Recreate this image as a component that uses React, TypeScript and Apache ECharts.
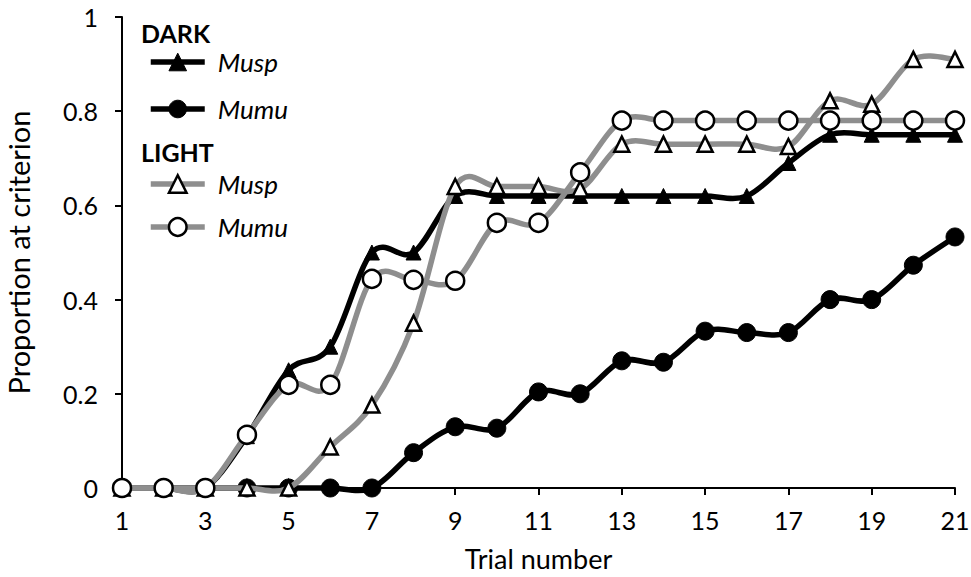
import React, { useEffect, useRef } from "react";
import * as echarts from "echarts";

const trials = ["1","2","3","4","5","6","7","8","9","10","11","12","13","14","15","16","17","18","19","20","21"];
const darkMusp = [0, 0, 0, 0.11, 0.25, 0.30, 0.50, 0.50, 0.62, 0.62, 0.62, 0.62, 0.62, 0.62, 0.62, 0.62, 0.69, 0.75, 0.75, 0.75, 0.75];
const darkMumu = [0, 0, 0, 0, 0, 0, 0, 0.075, 0.13, 0.127, 0.204, 0.20, 0.27, 0.267, 0.333, 0.33, 0.33, 0.40, 0.40, 0.473, 0.533];
const lightMusp = [0, 0, 0, 0, 0, 0.087, 0.176, 0.35, 0.64, 0.64, 0.64, 0.635, 0.73, 0.73, 0.73, 0.73, 0.725, 0.822, 0.815, 0.91, 0.91];
const lightMumu = [0, 0, 0, 0.113, 0.219, 0.219, 0.444, 0.442, 0.44, 0.563, 0.563, 0.67, 0.78, 0.78, 0.78, 0.78, 0.78, 0.78, 0.78, 0.78, 0.78];
const yTicks = ["0", "0.2", "0.4", "0.6", "0.8", "1"];

const FONT = "Lato";
const GREY = "#8e8e8e";
const LW = 5.5;

function curveSeries(vals: number[], color: string, z: number) {
  const n = vals.length;
  return {
    type: "custom",
    name: "_curve" + z,
    z,
    silent: true,
    data: vals.map((v, i) => [i, v]),
    encode: { x: 0, y: 1 },
    renderItem: (params: any, api: any) => {
      const i = params.dataIndex;
      if (i >= n - 1) return null;
      const p = (k: number) => {
        const c = Math.max(0, Math.min(n - 1, k));
        return api.coord([c, vals[c]]);
      };
      const p0 = p(i - 1), p1 = p(i), p2 = p(i + 1), p3 = p(i + 2);
      return {
        type: "bezierCurve",
        shape: {
          x1: p1[0], y1: p1[1], x2: p2[0], y2: p2[1],
          cpx1: p1[0] + (p2[0] - p0[0]) / 6, cpy1: p1[1] + (p2[1] - p0[1]) / 6,
          cpx2: p2[0] - (p3[0] - p1[0]) / 6, cpy2: p2[1] - (p3[1] - p1[1]) / 6,
        },
        style: { stroke: color, lineWidth: LW, fill: "none", lineCap: "round" },
      };
    },
  };
}

function markerSeries(name: string, vals: number[], dark: boolean, symbol: string, size: number, z: number) {
  return {
    name,
    type: "line",
    z,
    data: vals,
    symbol,
    symbolSize: size,
    showAllSymbol: true,
    lineStyle: { color: dark ? "#000" : GREY, width: LW, opacity: 0 },
    itemStyle: dark
      ? { color: "#000", borderColor: "#000", borderWidth: 1 }
      : { color: "#fff", borderColor: "#000", borderWidth: 2.5 },
    emphasis: { disabled: true },
  };
}

export default function App() {
  const ref = useRef<HTMLDivElement>(null);
  useEffect(() => {
    if (!ref.current) return;
    const chart = echarts.init(ref.current, null, { renderer: "svg" });
    const legendCommon = {
      orient: "vertical",
      left: 148,
      padding: 0,
      itemWidth: 54,
      itemHeight: 22,
      formatter: (n: string) => n.split(" ")[1],
      textStyle: { fontFamily: FONT, fontSize: 26, fontStyle: "italic", color: "#000", lineHeight: 22, padding: [0, 0, 0, 8] },
      selectedMode: false,
    };
    const li = (name: string, dark: boolean) => ({
      name,
      lineStyle: { color: dark ? "#000" : GREY, width: LW, opacity: 1 },
      itemStyle: dark
        ? { color: "#000", borderColor: "#000", borderWidth: 1 }
        : { color: "#fff", borderColor: "#000", borderWidth: 2.5 },
    });
    chart.setOption({
      animation: false,
      textStyle: { fontFamily: FONT },
      grid: { left: 122, right: 16, top: 17, bottom: 89, containLabel: false, outerBoundsMode: "none" },
      legend: [
        { ...legendCommon, top: 49, itemGap: 21, data: [li("DARK Musp", true), li("DARK Mumu", true)] },
        { ...legendCommon, top: 171, itemGap: 17, data: [li("LIGHT Musp", false), li("LIGHT Mumu", false)] },
      ],
      graphic: [
        { type: "text", x: 141, y: 33, style: { text: "DARK", font: `bold 25px ${FONT}`, fill: "#000", verticalAlign: "middle" } },
        { type: "text", x: 141, y: 152, style: { text: "LIGHT", font: `bold 25px ${FONT}`, fill: "#000", verticalAlign: "middle" } },
      ],
      xAxis: {
        type: "category",
        data: trials,
        boundaryGap: false,
        name: "Trial number",
        nameLocation: "middle",
        nameGap: 57,
        nameTextStyle: { fontFamily: FONT, fontSize: 27, lineHeight: 27, color: "#000" },
        axisLine: { lineStyle: { color: "#000", width: 2 } },
        axisTick: { show: true, interval: 1, length: 7, lineStyle: { color: "#000", width: 2 } },
        axisLabel: { interval: 1, fontFamily: FONT, fontSize: 25, color: "#000", margin: 19 },
        splitLine: { show: false },
      },
      yAxis: {
        type: "value",
        min: 0,
        max: 1,
        interval: 0.2,
        name: "Proportion at criterion",
        nameLocation: "middle",
        nameGap: 89,
        nameTextStyle: { fontFamily: FONT, fontSize: 29, color: "#000" },
        axisLine: { show: true, lineStyle: { color: "#000", width: 2 } },
        axisTick: { show: true, length: 7, lineStyle: { color: "#000", width: 2 } },
        axisLabel: {
          fontFamily: FONT,
          fontSize: 25,
          color: "#000",
          margin: 24,
          formatter: (v: number) => yTicks[Math.round(v / 0.2)],
        },
        splitLine: { show: false },
      },
      series: [
        curveSeries(darkMusp, "#000", 2),
        markerSeries("DARK Musp", darkMusp, true, "triangle", 15, 3),
        curveSeries(darkMumu, "#000", 4),
        markerSeries("DARK Mumu", darkMumu, true, "circle", 18, 5),
        curveSeries(lightMusp, GREY, 6),
        markerSeries("LIGHT Musp", lightMusp, false, "triangle", 15, 7),
        curveSeries(lightMumu, GREY, 8),
        markerSeries("LIGHT Mumu", lightMumu, false, "circle", 18, 9),
      ],
    });
    return () => chart.dispose();
  }, []);
  return <div ref={ref} style={{ position: "absolute", left: 0, top: 0, width: 971, height: 577 }} />;
}
